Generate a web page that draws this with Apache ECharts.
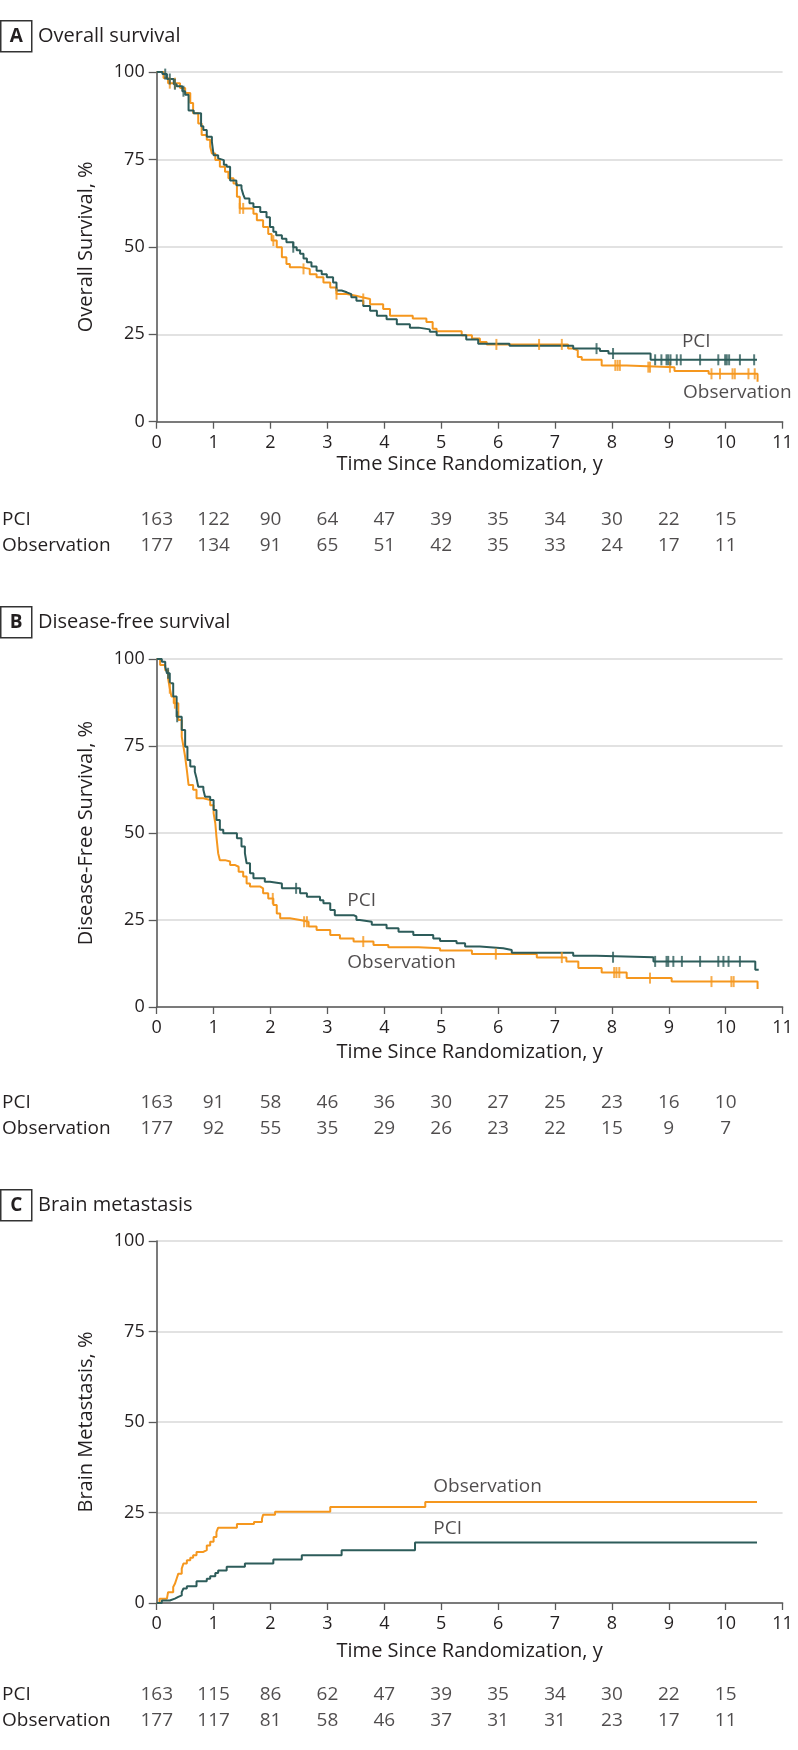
<!DOCTYPE html>
<html><head><meta charset="utf-8">
<script src="https://cdn.jsdelivr.net/npm/echarts/dist/echarts.min.js"></script>
<style>html,body{margin:0;padding:0;background:#fff}#c{width:798px;height:1750px}</style>
</head><body><div id="c"></div>
<script>
// ---------- DATA ----------
const years = [0,1,2,3,4,5,6,7,8,9,10];
const riskRows = ['PCI','Observation'];

// Panel A: overall survival (time in years, survival %)
const osPCI = [[0,100],[0.1,99.4],[0.18,98],[0.3,96.5],[0.35,95.9],[0.45,94.5],[0.5,93.5],[0.56,89],[0.65,88.2],[0.78,84.5],[0.82,83.4],[0.88,81.5],[0.97,80],[1.0,76.2],[1.08,75.3],[1.11,74.8],[1.18,73.5],[1.23,72.9],[1.29,69],[1.4,67.6],[1.49,66.7],[1.52,65],[1.55,63.8],[1.63,62.5],[1.7,61.4],[1.82,60],[1.93,58.5],[1.99,55.7],[2.05,54.3],[2.1,53.3],[2.2,52.3],[2.28,51.3],[2.4,49.9],[2.46,49],[2.52,48],[2.58,46.7],[2.64,45.6],[2.72,44.4],[2.81,43.2],[2.9,42.2],[2.99,41.3],[3.1,39.8],[3.16,37.5],[3.25,37],[3.34,36.5],[3.42,35.6],[3.51,34.6],[3.63,33.1],[3.75,31.7],[3.87,30.3],[4.04,29.3],[4.22,27.9],[4.45,26.9],[4.6,26.4],[4.8,25.7],[4.92,24.7],[5.44,23.5],[5.65,22.3],[6.2,21.7],[7.32,20.9],[7.79,20.2],[7.94,19.5],[8.68,17.7],[10.55,17.7]];
const osObs = [[0,100],[0.12,98.3],[0.2,96.8],[0.41,95.4],[0.5,94],[0.59,91.1],[0.64,88.2],[0.73,85.3],[0.79,82],[0.88,80.6],[0.94,78.6],[0.97,76.7],[1.03,74.8],[1.11,72.9],[1.2,71.5],[1.26,69.6],[1.35,68.1],[1.41,64.3],[1.46,61],[1.7,59.5],[1.76,57.6],[1.87,55.7],[1.96,53.7],[2.02,51.8],[2.11,49.9],[2.2,47],[2.28,45.1],[2.34,44.2],[2.52,43.7],[2.69,42.2],[2.81,41.3],[2.93,39.8],[3.05,38.4],[3.16,36.5],[3.34,36],[3.5,35.5],[3.63,35.1],[3.75,33.6],[3.98,32.2],[4.1,30.3],[4.5,29.5],[4.74,28.5],[4.85,26.6],[4.92,25.9],[5.36,24.7],[5.54,23.8],[5.68,22.8],[5.8,22.1],[7.23,20.9],[7.32,20.4],[7.4,18.5],[7.47,17.7],[7.82,16.1],[8.26,15.6],[9.1,14.5],[9.7,13.7],[10.56,11.4]];
const osPCICens = [0.15,0.23,0.32,0.47,2.4,7.73,8.02,8.76,8.87,8.96,8.99,9.03,9.14,9.21,9.55,9.87,9.99,10.02,10.06,10.25,10.5];
const osObsCens = [0.23,0.32,1.46,1.52,2.05,2.58,3.16,3.63,5.97,6.72,7.12,8.06,8.1,8.14,8.64,8.67,9.02,9.75,9.9,10.12,10.16,10.4,10.51];
const osRiskPCI = [163,122,90,64,47,39,35,34,30,22,15];
const osRiskObs = [177,134,91,65,51,42,35,33,24,17,11];

// Panel B: disease-free survival
const dfsPCI = [[0,100],[0.09,99.2],[0.15,97.8],[0.18,95.9],[0.23,93],[0.29,89.2],[0.35,83.4],[0.44,79.6],[0.5,74.8],[0.54,71],[0.59,69.1],[0.67,67.6],[0.7,65.7],[0.73,63.3],[0.82,62.4],[0.85,60.4],[0.94,59.5],[1.0,56.6],[1.05,53.7],[1.11,50.9],[1.17,49.9],[1.41,48.5],[1.49,46.1],[1.55,44.2],[1.58,41.3],[1.64,38.4],[1.7,37],[1.9,36],[1.99,35.5],[2.2,34.1],[2.52,32.7],[2.64,31.7],[2.87,30.7],[2.93,29.8],[3.05,27.9],[3.13,26.4],[3.46,26],[3.51,25],[3.57,24.5],[3.78,23.6],[4.04,22.6],[4.25,21.6],[4.51,20.7],[4.86,19.7],[4.98,19],[5.27,18.3],[5.42,17.4],[5.68,16.9],[6.09,16.4],[6.24,15.6],[7.32,14.7],[7.73,14.3],[8.73,13.1],[10.52,10.7],[10.58,10.7]];
const dfsObs = [[0,100],[0.06,98.3],[0.15,96.8],[0.2,94.4],[0.23,91.6],[0.26,89.2],[0.3,87.3],[0.38,82.5],[0.44,77.7],[0.47,74.8],[0.5,71.9],[0.53,68.1],[0.56,63.8],[0.64,62.4],[0.7,60],[0.82,59.5],[0.94,58],[1.0,55.7],[1.03,52.8],[1.05,48.9],[1.08,44.2],[1.11,42.2],[1.2,41.8],[1.29,40.8],[1.38,40.3],[1.44,38.9],[1.52,37.5],[1.58,35.5],[1.64,34.6],[1.82,34.1],[1.87,32.7],[1.96,31.2],[2.05,29.3],[2.11,26.9],[2.17,25.5],[2.34,25],[2.52,24.5],[2.67,23.1],[2.81,22.1],[3.05,20.7],[3.22,19.7],[3.46,18.8],[3.81,17.8],[4.07,17.2],[4.6,16.9],[4.98,16.2],[5.54,15.2],[6.68,14.2],[7.2,13.1],[7.41,11.2],[7.82,9.9],[8.26,8.3],[9.05,7.3],[10.56,5.2]];
const dfsPCICens = [0.2,0.36,2.45,8.02,8.76,8.96,8.99,9.08,9.23,9.55,9.87,9.96,10.05,10.25];
const dfsObsCens = [0.23,0.32,2.04,2.59,2.64,3.63,5.96,7.12,8.04,8.08,8.13,8.67,9.75,10.1,10.14];
const dfsRiskPCI = [163,91,58,46,36,30,27,25,23,16,10];
const dfsRiskObs = [177,92,55,35,29,26,23,22,15,9,7];

// Panel C: brain metastasis (cumulative incidence %)
const bmPCI = [[0,0],[0.09,0.7],[0.23,1.2],[0.32,1.7],[0.38,2.1],[0.44,3],[0.47,4],[0.53,4.6],[0.7,6],[0.88,6.7],[0.94,7.4],[1.03,8.3],[1.08,9],[1.23,10],[1.55,10.9],[2.05,12],[2.55,13.2],[3.25,14.6],[4.54,16.7],[10.55,16.7]];
const bmObs = [[0,0],[0.05,1.2],[0.18,1.7],[0.2,3],[0.29,4.4],[0.32,5.3],[0.35,6.7],[0.38,8.1],[0.44,9.5],[0.47,10.9],[0.53,11.8],[0.59,12.5],[0.64,13.2],[0.7,14.1],[0.82,14.6],[0.88,15.9],[0.94,16.9],[1.0,18.2],[1.05,19.6],[1.08,20.8],[1.41,21.8],[1.71,22.4],[1.85,23.3],[1.87,24.4],[2.08,25.2],[3.05,26.5],[4.72,27.9],[10.55,27.9]];
const bmRiskPCI = [163,115,86,62,47,39,35,34,30,22,15];
const bmRiskObs = [177,117,81,58,46,37,31,31,23,17,11];

// ---------- LAYOUT / STYLE ----------
const COL_PCI = '#2d5c5a', COL_OBS = '#f5971e', TXT = '#231f20', AX = '#5a5a5a';
const FONT = 'Open Sans';
const LEFT = 156.7, WIDTH = 625.9;

const panels = [
  {letter:'A', title:'Overall survival', yName:'Overall Survival, %', boxTop:20, top:72, h:349.7, nameGap:33, riskTop:507,
   pci:osPCI, obs:osObs, pciC:osPCICens, obsC:osObsCens, rP:osRiskPCI, rO:osRiskObs, lblPCI:[9.23,22.8], lblObs:[9.25,8.2]},
  {letter:'B', title:'Disease-free survival', yName:'Disease-Free Survival, %', boxTop:606, top:659, h:348, nameGap:35, riskTop:1090,
   pci:dfsPCI, obs:dfsObs, pciC:dfsPCICens, obsC:dfsObsCens, rP:dfsRiskPCI, rO:dfsRiskObs, lblPCI:[3.35,30.7], lblObs:[3.35,12.9]},
  {letter:'C', title:'Brain metastasis', yName:'Brain Metastasis, %', boxTop:1189, top:1241, h:362, nameGap:38, riskTop:1682,
   pci:bmPCI, obs:bmObs, pciC:[], obsC:[], rP:bmRiskPCI, rO:bmRiskObs, lblPCI:[4.86,20.6], lblObs:[4.86,32.2]}
];

function stepVal(curve, t){ let v = curve[0][1]; for (const p of curve){ if (p[0] <= t) v = p[1]; else break; } return v; }

const grid = [], xAxis = [], yAxis = [], series = [], graphic = [];
panels.forEach((p, i) => {
  const g = 2*i, r = 2*i+1;
  grid.push({left:LEFT, top:p.top, width:WIDTH, height:p.h, containLabel:false, outerBoundsMode:'none'});
  grid.push({left:LEFT, top:p.riskTop, width:WIDTH, height:52, containLabel:false, outerBoundsMode:'none'});
  xAxis.push({gridIndex:g, type:'value', min:0, max:11, interval:1,
    axisLine:{show:true, onZero:false, lineStyle:{color:AX, width:1.6}},
    axisTick:{show:true, length:7, lineStyle:{color:AX, width:1.3}},
    axisLabel:{fontSize:18, color:TXT, fontFamily:FONT, margin:12},
    splitLine:{show:false},
    name:'Time Since Randomization, y', nameLocation:'middle', nameGap:p.nameGap,
    nameTextStyle:{fontSize:20, color:TXT, fontFamily:FONT}});
  xAxis.push({gridIndex:r, type:'value', min:0, max:11, show:false});
  yAxis.push({gridIndex:g, type:'value', min:0, max:100, interval:25,
    axisLine:{show:true, lineStyle:{color:AX, width:1.6}},
    axisTick:{show:true, length:8, lineStyle:{color:AX, width:1.3}},
    axisLabel:{fontSize:18, color:TXT, fontFamily:FONT, margin:12},
    splitLine:{show:true, lineStyle:{color:'#d9d9d9', width:1.5}},
    name:p.yName, nameLocation:'middle', nameGap:60, nameRotate:90,
    nameTextStyle:{fontSize:20, color:TXT, fontFamily:FONT}});
  yAxis.push({gridIndex:r, type:'category', data:riskRows, inverse:true,
    axisLine:{show:false}, axisTick:{show:false}, splitLine:{show:false},
    axisLabel:{fontSize:19, color:TXT, fontFamily:FONT, align:'left', margin:LEFT-2}});

  const line = (name, data, color) => ({type:'line', name, xAxisIndex:g, yAxisIndex:g, data, step:'end',
    showSymbol:false, symbol:'none', clip:false, silent:true, lineStyle:{color, width:2}, z:3});
  series.push(line('Observation', p.obs, COL_OBS));
  series.push(line('PCI', p.pci, COL_PCI));
  const cens = (data, curve, color) => ({type:'scatter', xAxisIndex:g, yAxisIndex:g, symbol:'rect', symbolSize:[2,11],
    silent:true, itemStyle:{color}, z:4, data:data.map(t => [t, stepVal(curve, t)])});
  series.push(cens(p.obsC, p.obs, COL_OBS));
  series.push(cens(p.pciC, p.pci, COL_PCI));
  series.push({type:'scatter', xAxisIndex:g, yAxisIndex:g, symbolSize:1, silent:true,
    itemStyle:{color:'rgba(0,0,0,0)'},
    data:[{name:'PCI', value:p.lblPCI}, {name:'Observation', value:p.lblObs}],
    label:{show:true, position:'inside', align:'left', verticalAlign:'middle', formatter:d => d.name,
      fontSize:19, color:TXT, fontFamily:FONT}});
  const riskData = [];
  years.forEach((t, k) => { riskData.push([t, 0, p.rP[k]]); riskData.push([t, 1, p.rO[k]]); });
  series.push({type:'scatter', xAxisIndex:r, yAxisIndex:r, symbolSize:1, silent:true,
    itemStyle:{color:'rgba(0,0,0,0)'}, data:riskData,
    label:{show:true, position:'inside', align:'center', verticalAlign:'middle', formatter:d => String(d.value[2]),
      fontSize:19, color:TXT, fontFamily:FONT}});

  graphic.push({type:'rect', shape:{x:0.75, y:p.boxTop+0.75, width:31, height:31},
    style:{fill:'#fff', stroke:'#333', lineWidth:1.5}});
  graphic.push({type:'text', x:16.25, y:p.boxTop+16.5,
    style:{text:p.letter, fontSize:19, fontWeight:'bold', fontFamily:FONT, fill:TXT, align:'center', verticalAlign:'middle'}});
  graphic.push({type:'text', x:38, y:p.boxTop+16.5,
    style:{text:p.title, fontSize:20, fontFamily:FONT, fill:TXT, align:'left', verticalAlign:'middle'}});
});

const chart = echarts.init(document.getElementById('c'), null, {renderer:'canvas'});
chart.setOption({animation:false, backgroundColor:'#fff', grid, xAxis, yAxis, series, graphic});
</script></body></html>
